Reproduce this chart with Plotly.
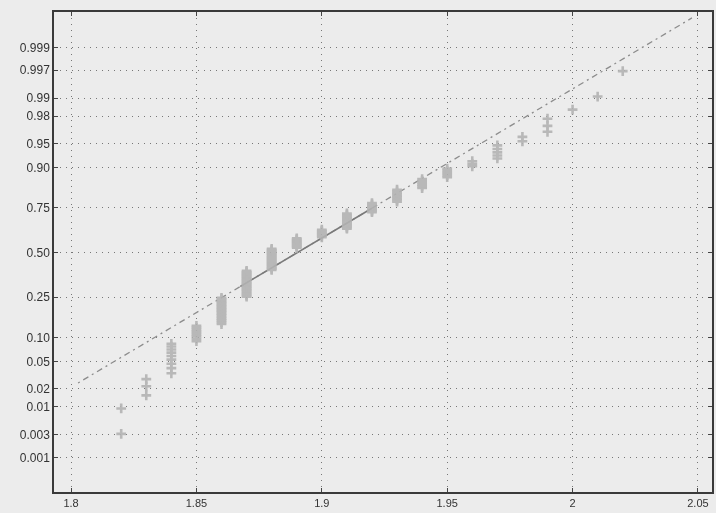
import numpy as np
import plotly.graph_objects as go
from statistics import NormalDist

# ---- data ----
values = [1.82, 1.83, 1.84, 1.85, 1.86, 1.87, 1.88, 1.89, 1.90, 1.91, 1.92,
          1.93, 1.94, 1.95, 1.96, 1.97, 1.98, 1.99, 2.00, 2.01, 2.02]
counts = [2, 3, 9, 8, 18, 23, 21, 10, 8, 14, 8,
          9, 6, 5, 3, 5, 2, 3, 1, 1, 1]

prob_ticks = [0.001, 0.003, 0.01, 0.02, 0.05, 0.10, 0.25, 0.50, 0.75,
              0.90, 0.95, 0.98, 0.99, 0.997, 0.999]
prob_labels = ["0.001", "0.003", "0.01", "0.02", "0.05", "0.10", "0.25", "0.50",
               "0.75", "0.90", "0.95", "0.98", "0.99", "0.997", "0.999"]
x_ticks = [1.8, 1.85, 1.9, 1.95, 2.0, 2.05]
x_labels = ["1.8", "1.85", "1.9", "1.95", "2", "2.05"]

# reference line (fitted normal)
ref_mu = 1.8903
ref_sigma = 0.04449
ref_extent = [1.8028, 2.0476]

nd = NormalDist()

sample = np.sort(np.repeat(values, counts))
n = len(sample)
pp = (np.arange(1, n + 1) - 0.5) / n
z = np.array([nd.inv_cdf(p) for p in pp])

q1, q3 = np.percentile(sample, [25, 75])

def zline(xs):
    return [(x - ref_mu) / ref_sigma for x in xs]

fig = go.Figure()

# dash-dot extension
fig.add_trace(go.Scatter(
    x=ref_extent, y=zline(ref_extent), mode="lines",
    line=dict(color="#8c8c8c", width=1.3, dash="2px,4px,6px,4px"),
    hoverinfo="skip", showlegend=False))
# solid segment between quartiles
fig.add_trace(go.Scatter(
    x=[q1, q3], y=zline([q1, q3]), mode="lines",
    line=dict(color="#7a7a7a", width=1.6),
    hoverinfo="skip", showlegend=False))

fig.add_trace(go.Scatter(
    x=sample, y=z, mode="markers",
    marker=dict(symbol="cross-thin", size=7, color="#b3b3b3",
                line=dict(color="#b3b3b3", width=2.6)),
    opacity=0.9,
    showlegend=False))

axis_common = dict(
    showline=True, linecolor="#3a3a3a", linewidth=1.5, mirror="ticks",
    ticks="inside", ticklen=4, tickcolor="#444",
    showgrid=True, gridcolor="#777777", griddash="1px,5px", gridwidth=1.3,
    zeroline=False,
)

fig.update_xaxes(range=[1.7932, 2.0556], tickvals=x_ticks, ticktext=x_labels,
                 tickfont=dict(family="Liberation Sans, Arial, sans-serif", size=11, color="#333"),
                 **axis_common)
fig.update_yaxes(range=[-3.61, 3.625],
                 tickvals=[nd.inv_cdf(p) for p in prob_ticks], ticktext=prob_labels,
                 tickfont=dict(family="Liberation Sans, Arial, sans-serif", size=12, color="#333"),
                 **axis_common)

fig.update_layout(
    width=716, height=513,
    margin=dict(l=54, r=2, t=12, b=21),
    paper_bgcolor="#ececec", plot_bgcolor="#ececec",
    showlegend=False,
)

fig.write_html("out.html")
